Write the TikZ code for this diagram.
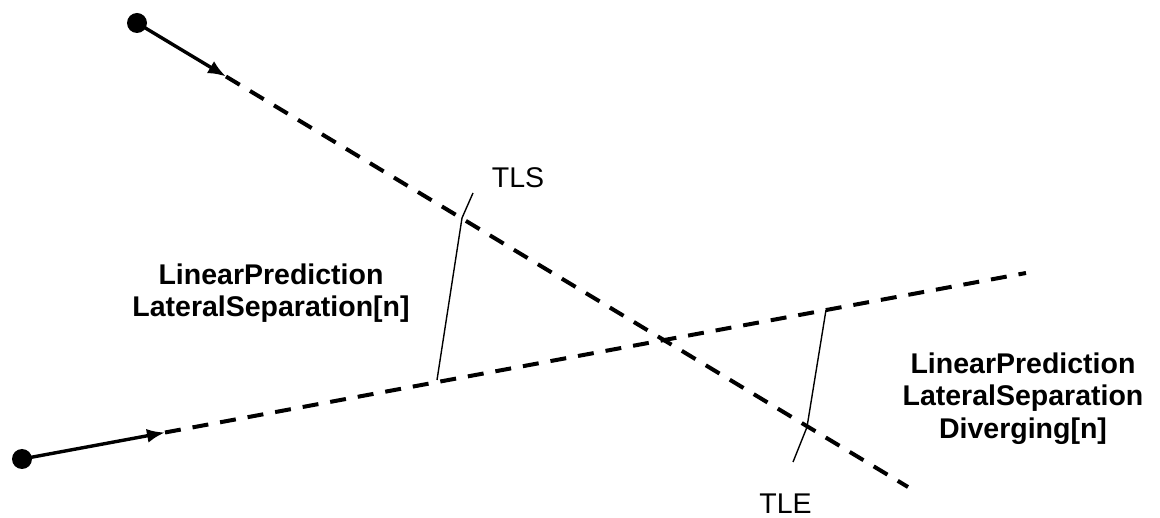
\documentclass[tikz,border=0pt]{standalone}
\usepackage{fontspec}
\setmainfont{Liberation Sans}
\usepackage{tikz}
\usetikzlibrary{positioning, calc, arrows.meta}

\begin{document}
\begin{tikzpicture}[x=1pt, y=-1pt,
  dot/.style={circle, fill=black, inner sep=0pt, minimum size=20pt},
  track/.style={line width=3.4pt, -{Latex[length=18pt,width=14pt]}},
  pred/.style={line width=4pt, dash pattern=on 16pt off 12pt},
  sep/.style={line width=1.4pt},
  lbl/.style={inner sep=0pt, text depth=0pt, font=\fontsize{28.5}{32.5}\selectfont},
  bold lbl/.style={inner sep=0pt, align=center, font=\fontsize{28.5}{32.5}\selectfont\bfseries}]
\useasboundingbox (0,0) rectangle (1160,518);

\node[dot] (upstart) at (137,23) {};
\coordinate (uptip) at (226,76.5);
\coordinate (upend) at (908,487);
\node[dot] (lostart) at (22,459) {};
\coordinate (lotip) at (165,432.5);
\coordinate (loend) at (1026,273);

\draw[track] (upstart.center) -- (uptip);
\draw[track] (lostart.center) -- (lotip);
\draw[pred] (uptip) -- (upend);
\draw[pred] (lotip) -- (loend);

\coordinate (tlsmark) at (473,193);
\coordinate (tlsup) at (462,218);
\coordinate (tlslo) at (437,380);
\draw[sep] (tlsmark) -- (tlsup) -- (tlslo);
\coordinate (tleup) at (826,310);
\coordinate (tlelo) at (807,427);
\coordinate (tlemark) at (793,462);
\draw[sep] (tleup) -- (tlelo) -- (tlemark);

\node[lbl, anchor=base] (tls) at (518,188) {TLS};
\node[lbl, anchor=base] (tle) at (785.5,514) {TLE};
\node[bold lbl] (sepnow) at (271,293) {LinearPrediction\\LateralSeparation[n]};
\node[bold lbl] (sepdiv) at (1023,398.5) {LinearPrediction\\LateralSeparation\\Diverging[n]};

\end{tikzpicture}
\end{document}
